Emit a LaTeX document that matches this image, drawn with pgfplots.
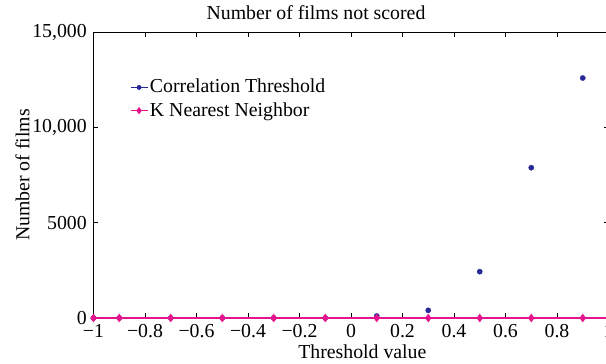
\documentclass[border=0pt]{standalone}
\usepackage{pgfplots}
\pgfplotsset{compat=1.18}
\usepackage{fontspec}
\setmainfont{Liberation Serif}
\definecolor{ctblue}{RGB}{40,40,150}
\definecolor{knnpink}{RGB}{230,20,140}
\begin{document}
\fontsize{19.8bp}{23bp}\selectfont
\begin{tikzpicture}
\begin{axis}[
  at={(0,0)}, anchor=south west,
  scale only axis, width=515bp, height=286bp,
  xmin=-1, xmax=1, ymin=0, ymax=15000,
  xtick={-1,-0.8,-0.6,-0.4,-0.2,0,0.2,0.4,0.6,0.8,1},
  xticklabels={−1,−0.8,−0.6,−0.4,−0.2,0,0.2,0.4,0.6,0.8,1},
  ytick={0,5000,10000,15000},
  yticklabels={0,5000,{10,000},{15,000}},
  scaled y ticks=false,
  tick align=inside, major tick length=5bp,
  tick style={black, line width=0.8pt},
  axis line style={black, line width=1pt},
  title={Number of films not scored},
  title style={at={(axis description cs:0.432,1.022)}, anchor=base, inner sep=0pt},
  xlabel={Threshold value},
  xlabel style={at={(axis description cs:0.522,-0.119)}, anchor=center, inner sep=0pt},
  ylabel={Number of films},
  ylabel style={at={(axis description cs:-0.138,0.5)}, anchor=center, inner sep=0pt},
  legend style={draw=none, fill=none, at={(axis description cs:0.065,0.85)}, anchor=north west, row sep=2.5bp},
  legend cell align=left,
  legend image post style={line width=0.8pt},
]
\addplot[ctblue, only marks, mark=*, mark size=2.6bp, forget plot] coordinates {
(-1,0) (-0.9,0) (-0.7,0) (-0.5,0) (-0.3,0) (-0.1,0) (0.1,105) (0.3,403) (0.5,2430) (0.7,7883) (0.9,12587)
};
\addlegendimage{ctblue, line width=0.8pt, mark=*, mark size=2bp}
\addlegendentry{Correlation Threshold}
\addplot[knnpink, line width=1.6pt, mark=diamond*, mark size=3bp] coordinates {
(-1,0) (-0.9,0) (-0.7,0) (-0.5,0) (-0.3,0) (-0.1,0) (0.1,0) (0.3,0) (0.5,0) (0.7,0) (0.9,0) (1,0)
};
\addlegendentry{K Nearest Neighbor}
\end{axis}
\pgfresetboundingbox
\path[use as bounding box] (-93.5bp,-46bp) rectangle (512.5bp,318bp);
\end{tikzpicture}
\end{document}
